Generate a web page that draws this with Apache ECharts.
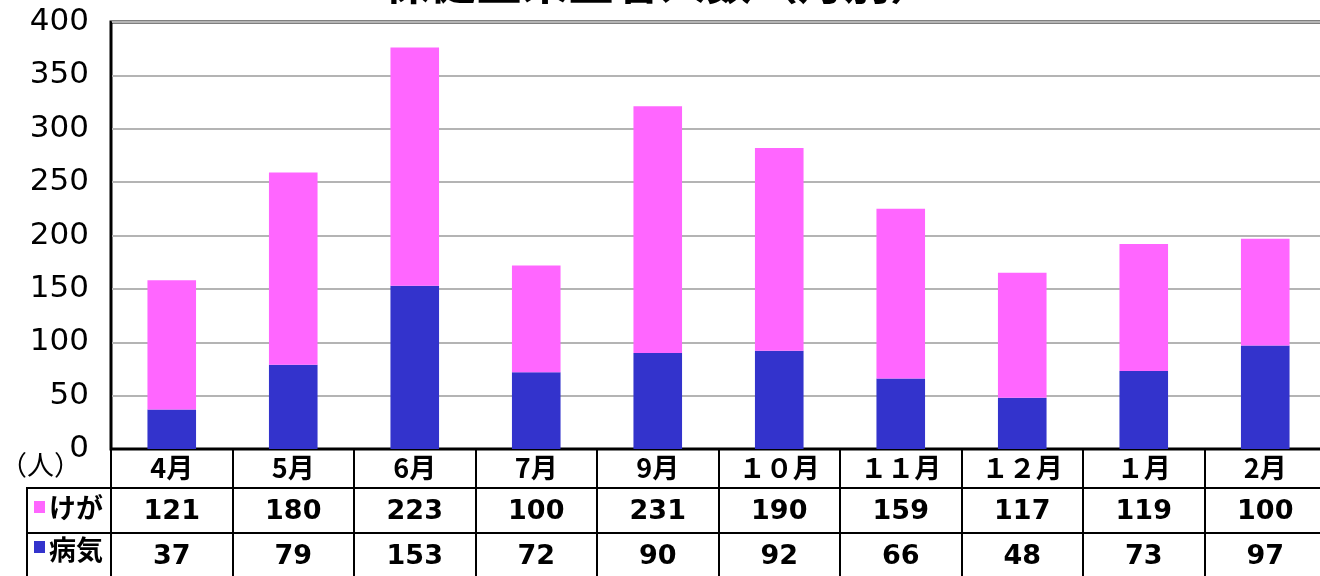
<!DOCTYPE html>
<html>
<head>
<meta charset="utf-8">
<script src="https://cdn.jsdelivr.net/npm/echarts@6/dist/echarts.min.js"></script>
<style>
  html, body { margin: 0; padding: 0; background: #fff; }
  #chart-panel { width: 1320px; height: 576px; }
</style>
</head>
<body>
<div id="chart-panel"></div>
<script>
var months = ['4月', '5月', '6月', '7月', '9月', '１０月', '１１月', '１２月', '１月', '2月'];
var injury = [121, 180, 223, 100, 231, 190, 159, 117, 119, 100];   // けが
var illness = [37, 79, 153, 72, 90, 92, 66, 48, 73, 97];          // 病気
var yTicks = [0, 50, 100, 150, 200, 250, 300, 350, 400];

var myChart = echarts.init(document.querySelector('#chart-panel'));

var cjk = '"Noto Sans CJK JP", sans-serif';
var num = '"DejaVu Sans", sans-serif';

// one table row per x axis; ticks draw the cell borders
function tableAxis(data, offset, rowH, font, size, margin) {
    return {
        type: 'category',
        data: data,
        position: 'bottom',
        offset: offset,
        axisLine: { show: true, lineStyle: { color: '#000', width: 2 } },
        axisTick: { show: true, interval: 0, length: rowH, lineStyle: { color: '#000', width: 2 } },
        axisLabel: { interval: 0, margin: margin, color: '#000', fontFamily: font, fontSize: size, fontWeight: 'bold' },
        splitLine: { show: false }
    };
}

var option = {
    backgroundColor: '#fff',
    animation: false,
    grid: {
        left: 111, right: -6, top: 22, bottom: 127,
        containLabel: false, outerBoundsMode: 'none',
        show: true, borderColor: '#000', borderWidth: 3
    },
    xAxis: [
        tableAxis(months, 0, 39, cjk, 27, 5),
        tableAxis(injury.map(String), 39, 45, num, 27, 10),
        tableAxis(illness.map(String), 84, 45, num, 27, 10)
    ],
    yAxis: {
        type: 'value',
        min: yTicks[0],
        max: yTicks[yTicks.length - 1],
        interval: 50,
        axisLine: { show: true, lineStyle: { color: '#000', width: 2 } },
        axisTick: { show: false },
        axisLabel: { margin: 22, color: '#000', fontFamily: num, fontSize: 31 },
        splitLine: { lineStyle: { color: '#b4b4b4', width: 2 } }
    },
    series: [
        {
            name: '病気', type: 'bar', stack: 'total', xAxisIndex: 0,
            barWidth: '40%', data: illness,
            itemStyle: { color: '#3333cc' }
        },
        {
            name: 'けが', type: 'bar', stack: 'total', xAxisIndex: 0,
            barWidth: '40%', data: injury,
            itemStyle: { color: '#ff66ff' }
        }
    ],
    graphic: [
        {
            type: 'text', left: 'center', top: -41,
            style: { text: '保健室来室者人数（月別）', fill: '#000', font: 'bold 46px ' + cjk }
        },
        {
            type: 'text', x: 0, y: 451,
            style: { text: '（人）', fill: '#000', font: '27px ' + cjk }
        },
        {
            type: 'rect', shape: { x: 27, y: 488, width: 84, height: 100 },
            style: { fill: 'none', stroke: '#000', lineWidth: 2 }
        },
        {
            type: 'line', shape: { x1: 27, y1: 533, x2: 111, y2: 533 },
            style: { stroke: '#000', lineWidth: 2 }
        },
        {
            type: 'rect', shape: { x: 34, y: 501, width: 11, height: 12 },
            style: { fill: '#ff66ff' }
        },
        {
            type: 'text', x: 49, y: 494,
            style: { text: 'けが', fill: '#000', font: 'bold 27px ' + cjk }
        },
        {
            type: 'rect', shape: { x: 34, y: 541, width: 11, height: 12 },
            style: { fill: '#3333cc' }
        },
        {
            type: 'text', x: 49, y: 536,
            style: { text: '病気', fill: '#000', font: 'bold 27px ' + cjk }
        }
    ]
};

myChart.setOption(option);
</script>
</body>
</html>
